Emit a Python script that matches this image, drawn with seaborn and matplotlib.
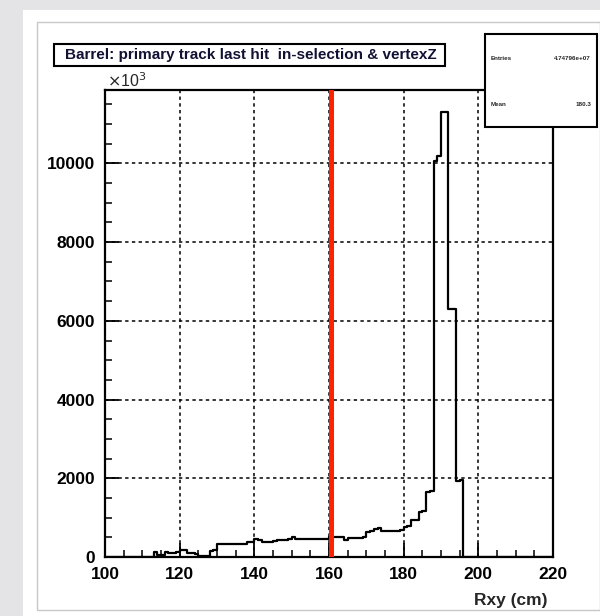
import matplotlib
matplotlib.use('Agg')
import matplotlib.pyplot as plt
from matplotlib.patches import Rectangle
from matplotlib.ticker import MultipleLocator
import numpy as np
import pandas as pd
import seaborn as sns

# histogram content, 1 cm bins from 100 to 220 cm (values as shown on the axis)
bin_lo = 100
bin_hi = 220
counts = [
    0, 0, 0, 0, 0, 0, 0, 0, 0, 0,              # 100-109
    0, 0, 0, 120, 40, 60, 130, 110, 100, 120,  # 110-119
    170, 170, 110, 90, 80, 20, 20, 20, 150, 170,  # 120-129
    320, 320, 320, 320, 320, 320, 320, 330, 380, 390,  # 130-139
    450, 430, 390, 390, 390, 400, 440, 440, 440, 450,  # 140-149
    510, 460, 450, 450, 450, 450, 450, 450, 450, 450,  # 150-159
    520, 520, 520, 510, 440, 480, 490, 490, 490, 500,  # 160-169
    640, 650, 720, 730, 670, 670, 670, 670, 670, 680,  # 170-179
    750, 800, 930, 950, 1150, 1160, 1660, 1680, 10050, 10200,  # 180-189
    11300, 11300, 6300, 6300, 1920, 1950, 0, 0, 0, 0,  # 190-199
    0, 0, 0, 0, 0, 0, 0, 0, 0, 0,              # 200-209
    0, 0, 0, 0, 0, 0, 0, 0, 0, 0,              # 210-219
]
cut_value = 160.5

title_text = 'Barrel: primary track last hit  in-selection & vertexZ'
stats_labels = ['Entries', 'Mean']
stats_values = ['4.74796e+07', '180.3']
x_label = 'Rxy (cm)'

sns.set_style('white')
plt.rcParams['font.family'] = ['Liberation Sans', 'DejaVu Sans']

centers = np.arange(bin_lo, bin_hi) + 0.5
df = pd.DataFrame({'rxy': centers, 'n': counts})

W, H = 600, 616
fig = plt.figure(figsize=(W / 100, H / 100), dpi=100)
fig.patch.set_facecolor('#e4e4e6')


def fx(px):
    return px / W


def fy(py):
    return 1 - py / H


# white card and ROOT canvas border (behind everything)
fig.patches.append(Rectangle((fx(23), 0), 1, fy(10), transform=fig.transFigure,
                             facecolor='white', edgecolor='none', zorder=-10))
fig.patches.append(Rectangle((fx(37), fy(610)), fx(600 - 37), fy(22) - fy(610),
                             transform=fig.transFigure, facecolor='white',
                             edgecolor='#c8c8c8', linewidth=1.0, zorder=-9))

ax = fig.add_axes([fx(105), fy(557), fx(553 - 105), fy(90) - fy(557)])
ax.set_facecolor('white')

sns.histplot(data=df, x='rxy', weights='n', binwidth=1, binrange=(bin_lo, bin_hi),
             element='step', fill=False, color='black', linewidth=1.6, ax=ax,
             zorder=3)
ax.axvline(cut_value, color='#ff2200', linewidth=3.6, zorder=4)

ax.set_xlim(bin_lo, bin_hi)
ax.set_ylim(0, 1.05 * max(counts))
ax.xaxis.set_major_locator(MultipleLocator(20))
ax.xaxis.set_minor_locator(MultipleLocator(5))
ax.yaxis.set_major_locator(MultipleLocator(2000))
ax.yaxis.set_minor_locator(MultipleLocator(500))
ax.grid(True, which='major', color='black', linestyle=(0, (2.2, 2.2)), linewidth=1.1)
ax.set_axisbelow(True)

ax.tick_params(axis='both', which='major', direction='in', length=10, width=1.3,
               labelsize=12.5, pad=7, colors='black')
ax.tick_params(axis='both', which='minor', direction='in', length=5, width=1.3)
ax.tick_params(top=False, right=False, which='both')
ax.tick_params(left=True, bottom=True, which='both')
for lab in ax.get_xticklabels() + ax.get_yticklabels():
    lab.set_fontweight('bold')
for side in ax.spines.values():
    side.set_linewidth(1.6)
    side.set_color('black')

ax.set_xlabel('')
ax.set_ylabel('')
fig.text(fx(548), fy(600), x_label, ha='right', va='center', fontsize=12.5,
         fontweight='bold')
fig.text(fx(107), fy(81), r'$\times$10$^{3}$', ha='left', va='center',
         fontsize=11.5)

# title box
fig.patches.append(Rectangle((fx(54), fy(66)), fx(445 - 54), fy(44) - fy(66),
                             transform=fig.transFigure, facecolor='white',
                             edgecolor='black', linewidth=1.5, zorder=5))
fig.text(fx(251), fy(55), title_text, ha='center', va='center', fontsize=11,
         fontweight='bold', color='#111133', zorder=6)

# stats box
fig.patches.append(Rectangle((fx(485), fy(127)), fx(597 - 485), fy(34) - fy(127),
                             transform=fig.transFigure, facecolor='white',
                             edgecolor='black', linewidth=1.5, zorder=5))
for i, (lab, val) in enumerate(zip(stats_labels, stats_values)):
    yy = fy(59 + 46 * i)
    fig.text(fx(491), yy, lab, ha='left', va='center', fontsize=4.5,
             fontweight='bold', zorder=6)
    fig.text(fx(591), yy, val, ha='right', va='center', fontsize=4.5,
             fontweight='bold', zorder=6)

fig.savefig('out.png', dpi=100, facecolor=fig.get_facecolor())
